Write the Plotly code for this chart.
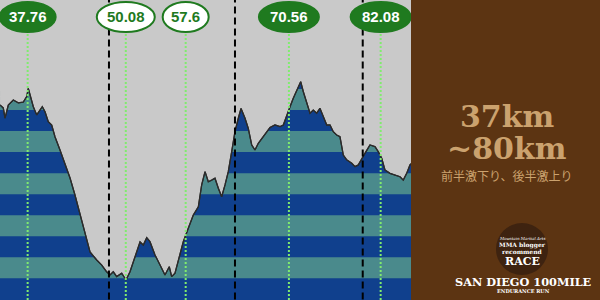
import plotly.graph_objects as go

# ---- data ----
km = [34.29, 34.70, 34.92, 35.33, 35.96, 36.59, 37.21, 37.64, 37.84, 38.14,
      38.47, 38.90, 39.31, 39.60, 39.94, 40.35, 40.78, 41.19, 41.82, 42.45,
      43.08, 43.70, 44.33, 44.96, 45.59, 46.43, 47.06, 47.68, 48.10, 48.51,
      48.94, 49.57, 50.11, 50.61, 51.24, 51.87, 52.28, 52.71, 53.12, 53.75,
      54.38, 55.00, 55.54, 55.84, 56.26, 56.89, 57.30, 57.93, 58.56, 59.19,
      59.61, 60.03, 60.44, 60.87, 61.28, 61.70, 62.12, 62.54, 62.95, 63.38,
      63.79, 64.21, 64.55, 65.05, 65.46, 65.89, 66.30, 66.72, 67.35, 68.19,
      68.81, 69.44, 69.86, 70.28, 70.70, 71.11, 71.54, 72.04, 72.37, 72.79,
      73.21, 73.62, 74.05, 74.46, 74.88, 75.31, 75.72, 76.13, 76.56, 76.97,
      77.39, 77.82, 78.45, 78.86, 79.27, 79.70, 80.11, 80.74, 81.37, 81.78,
      82.21, 82.62, 83.25, 83.88, 84.51, 84.92, 85.35, 85.76, 85.89]
elev = [1824, 1810, 1762, 1824, 1848, 1834, 1838, 1864, 1903, 1857,
        1816, 1777, 1800, 1816, 1792, 1745, 1729, 1673, 1610, 1539,
        1477, 1396, 1301, 1206, 1125, 1087, 1063, 1031, 1016, 1031,
        1008, 1024, 992, 1031, 1103, 1173, 1158, 1193, 1174, 1111,
        1063, 1016, 1055, 1008, 1024, 1111, 1174, 1238, 1301, 1340,
        1444, 1507, 1459, 1467, 1476, 1428, 1388, 1444, 1507, 1602,
        1697, 1761, 1808, 1761, 1713, 1634, 1610, 1642, 1673, 1717,
        1729, 1721, 1729, 1777, 1816, 1856, 1895, 1935, 1887, 1840,
        1785, 1800, 1785, 1808, 1768, 1729, 1729, 1697, 1681, 1673,
        1586, 1563, 1547, 1531, 1539, 1571, 1594, 1634, 1626, 1602,
        1571, 1515, 1499, 1491, 1483, 1467, 1499, 1539, 1545]

marker_km = [37.76, 50.08, 57.6, 70.56, 82.08]
marker_labels = ["37.76", "50.08", "57.6", "70.56", "82.08"]
marker_filled = [True, False, False, True, True]
marker_halfwidth_px = [28, 29, 23, 30, 30]

dashed_km = [47.97, 63.79, 79.83]

teal_bands = [(1000, 1100), (1200, 1300), (1400, 1500), (1600, 1700), (1800, 1900)]

title_lines = ["37km", "~80km"]
subtitle = "前半激下り、後半激上り"
race_name = "SAN DIEGO 100MILE"
race_sub = "ENDURANCE RUN"

# ---- style ----
NAVY = "#10408d"
TEAL = "#4a8a8c"
GRAY = "#c9c9c9"
BROWN = "#5c3412"
TAN = "#cba26e"
DARKGREEN = "#1f7a1f"
LIGHTGREEN = "#80ec6e"
X_RANGE = [34.288, 85.89]
Y_RANGE = [896.8, 2323.3]
DOMAIN_R = 411 / 600

fig = go.Figure()

# profile outline (under sky)
fig.add_trace(go.Scatter(x=km, y=elev, mode="lines",
                         line=dict(color="#2b2b2b", width=1.2), hoverinfo="skip"))
# gray sky between profile and top
fig.add_trace(go.Scatter(x=km, y=[Y_RANGE[1] + 50] * len(km), mode="lines",
                         line=dict(width=0), fill="tonexty", fillcolor=GRAY,
                         hoverinfo="skip"))
# outline again on top
fig.add_trace(go.Scatter(x=km, y=elev, mode="lines",
                         line=dict(color="#2b2b2b", width=1.3), hoverinfo="skip"))
# dashed black section lines (as traces so the ovals sit above them)
for k in dashed_km:
    fig.add_trace(go.Scatter(x=[k, k], y=[Y_RANGE[0] - 50, Y_RANGE[1] + 50],
                             mode="lines", hoverinfo="skip",
                             line=dict(color="black", width=2, dash="7px,4px")))

shapes = []
# teal bands (navy is the plot background)
for lo, hi in teal_bands:
    shapes.append(dict(type="rect", xref="x domain", yref="y", x0=0, x1=1,
                       y0=lo, y1=hi, fillcolor=TEAL, line=dict(width=0),
                       layer="below"))
# right panel
shapes.append(dict(type="rect", xref="paper", yref="paper", x0=DOMAIN_R, x1=1,
                   y0=0, y1=1, fillcolor=BROWN, line=dict(width=0), layer="above"))
# green dotted marker lines
for k in marker_km:
    shapes.append(dict(type="line", xref="x", yref="paper", x0=k, x1=k, y0=0,
                       y1=1 - 32 / 300,
                       line=dict(color=LIGHTGREEN, width=2, dash="2px,2px")))
# ovals
for k, filled, hw in zip(marker_km, marker_filled, marker_halfwidth_px):
    shapes.append(dict(type="circle", xref="x", yref="paper", xsizemode="pixel",
                       xanchor=k, x0=-hw, x1=hw, y0=1 - 32 / 300, y1=1 - 2 / 300,
                       fillcolor=DARKGREEN if filled else "white",
                       line=dict(color=DARKGREEN, width=2)))
# logo circle
shapes.append(dict(type="circle", xref="paper", yref="paper",
                   x0=496 / 600, x1=548 / 600, y0=1 - 275 / 300, y1=1 - 223 / 300,
                   fillcolor="#3e2310", line=dict(width=0)))

annotations = []
for k, lab, filled in zip(marker_km, marker_labels, marker_filled):
    annotations.append(dict(x=k, xref="x", y=1 - 17 / 300, yref="paper", text=lab,
                            showarrow=False, xanchor="center", yanchor="middle",
                            font=dict(family="Liberation Sans, Arial", size=15,
                                      color="white" if filled else DARKGREEN,
                                      weight="bold")))


def panel_text(text, px, py, family, size, color, bold=False):
    f = dict(family=family, size=size, color=color)
    if bold:
        f["weight"] = "bold"
    annotations.append(dict(x=px / 600, y=1 - py / 300, xref="paper", yref="paper",
                            text=text, showarrow=False, xanchor="center",
                            yanchor="middle", font=f))


panel_text(title_lines[0], 507, 116, "DejaVu Serif", 30, TAN, True)
panel_text(title_lines[1], 507, 148, "DejaVu Serif", 30, TAN, True)
panel_text(subtitle, 507, 175, "Noto Sans CJK JP", 12, TAN)
panel_text("<i>Mountain Martial Arts</i>", 522, 238, "DejaVu Serif", 4, "white")
panel_text("MMA blogger", 522, 245, "DejaVu Serif", 6, "white", True)
panel_text("recommend", 522, 251, "DejaVu Serif", 6, "white", True)
panel_text("RACE", 522, 261, "DejaVu Serif", 11, "white", True)
panel_text(race_name, 523, 281.5, "DejaVu Serif", 11.3, "white", True)
panel_text(race_sub, 523, 291, "DejaVu Serif", 5, "white", True)

fig.update_layout(
    width=600, height=300,
    margin=dict(l=0, r=0, t=0, b=0),
    paper_bgcolor=BROWN,
    plot_bgcolor=NAVY,
    showlegend=False,
    xaxis=dict(domain=[0, DOMAIN_R], range=X_RANGE, visible=False, fixedrange=True),
    yaxis=dict(range=Y_RANGE, visible=False, fixedrange=True),
    shapes=shapes,
    annotations=annotations,
)

fig.write_html("out.html")
